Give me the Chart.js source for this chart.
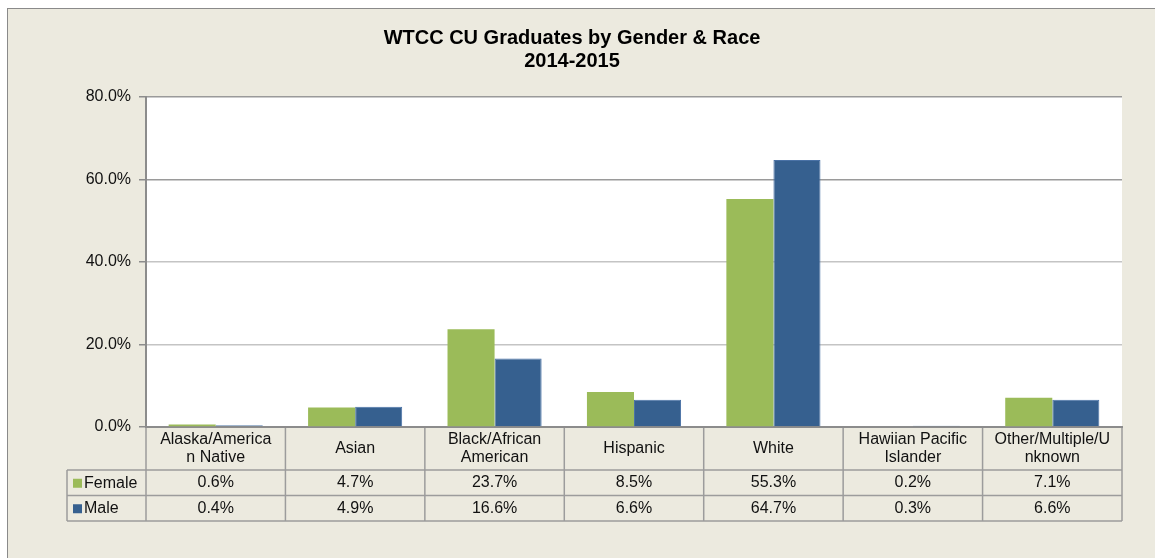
<!DOCTYPE html>
<html lang="en">
<head>
<meta charset="UTF-8">
<title>WTCC CU Graduates by Gender &amp; Race</title>
<script src="https://cdn.jsdelivr.net/npm/chart.js"></script>
<style>
  body { margin: 0; background: #fff; }
  #wrap { width: 1155px; height: 558px; }
</style>
</head>
<body>
<div id="wrap"><canvas id="gradChart" width="1155" height="558"></canvas></div>
<script>
// data
const categories = [
  ['Alaska/America', 'n Native'],
  ['Asian'],
  ['Black/African', 'American'],
  ['Hispanic'],
  ['White'],
  ['Hawiian Pacific', 'Islander'],
  ['Other/Multiple/U', 'nknown']
];
const female = [0.6, 4.7, 23.7, 8.5, 55.3, 0.2, 7.1];
const male = [0.4, 4.9, 16.6, 6.6, 64.7, 0.3, 6.6];
const yTicks = [0, 20, 40, 60, 80];
const titleLines = ['WTCC CU Graduates by Gender & Race', '2014-2015'];

const GREEN = '#9bbb59';
const BLUE = '#36608f';
const BEIGE = '#eceadf';
const FONT = '"Liberation Sans", Arial, sans-serif';

const fmt = v => v.toFixed(1) + '%';

// background frame, title, and the data table under the x axis
const frameAndTable = {
  id: 'frameAndTable',
  beforeDraw(chart) {
    const { ctx, chartArea: a } = chart;
    ctx.save();
    ctx.fillStyle = '#fff';
    ctx.fillRect(0, 0, chart.width, chart.height);
    ctx.fillStyle = BEIGE;
    ctx.fillRect(7, 8, chart.width, chart.height);
    ctx.strokeStyle = '#8a8a8a';
    ctx.lineWidth = 1;
    ctx.strokeRect(7.5, 8.5, chart.width + 10, chart.height + 10);
    ctx.fillStyle = '#fff';
    ctx.fillRect(a.left, a.top, a.right - a.left, a.bottom - a.top);

    // title
    ctx.fillStyle = '#000';
    ctx.font = 'bold 20px ' + FONT;
    ctx.textAlign = 'center';
    ctx.textBaseline = 'middle';
    titleLines.forEach((t, i) => ctx.fillText(t, 572, 38 + i * 23));
    ctx.restore();
  },
  afterDraw(chart) {
    const { ctx, chartArea: a } = chart;
    const x = chart.scales.x;
    const n = categories.length;
    const colW = (a.right - a.left) / n;
    const top = a.bottom + 1;
    const headH = 42, rowH = 25.5;
    const legL = 67;
    const bottom = top + headH + rowH * 2;

    ctx.save();
    ctx.strokeStyle = '#9c9c9c';
    ctx.lineWidth = 1.5;
    ctx.beginPath();
    for (let i = 0; i <= n; i++) {
      const xx = a.left + i * colW;
      ctx.moveTo(xx, top); ctx.lineTo(xx, bottom);
    }
    ctx.moveTo(legL, top + headH); ctx.lineTo(legL, bottom);
    [top + headH, top + headH + rowH, bottom].forEach(yy => {
      ctx.moveTo(legL, yy); ctx.lineTo(a.right, yy);
    });
    ctx.stroke();

    ctx.fillStyle = '#111';
    ctx.font = '16px ' + FONT;
    ctx.textAlign = 'center';
    ctx.textBaseline = 'middle';
    categories.forEach((lab, i) => {
      const cx = x.getPixelForValue(i);
      const lh = 18;
      const y0 = top + headH / 2 - (lab.length - 1) * lh / 2;
      lab.forEach((line, j) => ctx.fillText(line, cx, y0 + j * lh));
      ctx.fillText(fmt(female[i]), cx, top + headH + rowH / 2);
      ctx.fillText(fmt(male[i]), cx, top + headH + rowH * 1.5);
    });

    // legend keys
    ctx.textAlign = 'left';
    [['Female', GREEN], ['Male', BLUE]].forEach(([name, col], k) => {
      const cy = top + headH + rowH * (k + 0.5);
      ctx.fillStyle = col;
      ctx.fillRect(73, cy - 4, 9, 9);
      ctx.fillStyle = '#111';
      ctx.fillText(name, 84, cy + 0.5);
    });
    ctx.restore();
  }
};

new Chart(document.getElementById('gradChart'), {
  type: 'bar',
  data: {
    labels: categories,
    datasets: [
      { label: 'Female', data: female, backgroundColor: GREEN, borderColor: GREEN, borderWidth: 0 },
      { label: 'Male', data: male, backgroundColor: BLUE, borderColor: '#4a72a6', borderWidth: 1 }
    ]
  },
  options: {
    responsive: false,
    animation: false,
    layout: { padding: { top: 97, left: 0, right: 33, bottom: 131 } },
    datasets: { bar: { categoryPercentage: 0.675, barPercentage: 1 } },
    plugins: {
      legend: { display: false },
      tooltip: { enabled: false },
      title: { display: false }
    },
    scales: {
      x: {
        ticks: { display: false },
        grid: { display: false },
        border: { color: '#8c8c8c', width: 2 },
        afterFit(s) { s.height = 0; }
      },
      y: {
        min: 0,
        max: 80,
        afterBuildTicks(s) { s.ticks = yTicks.map(v => ({ value: v })); },
        afterFit(s) { s.width = 146; },
        ticks: {
          callback: v => fmt(v),
          color: '#111',
          padding: 8,
          font: { family: FONT, size: 16 }
        },
        grid: {
          color: c => (c.tick && c.tick.value >= 60 ? '#9a9a9a' : '#c4c4c4'),
          lineWidth: 1.5,
          tickLength: 7,
          tickColor: '#8c8c8c'
        },
        border: { color: '#8c8c8c', width: 2 }
      }
    }
  },
  plugins: [frameAndTable]
});
</script>
</body>
</html>
